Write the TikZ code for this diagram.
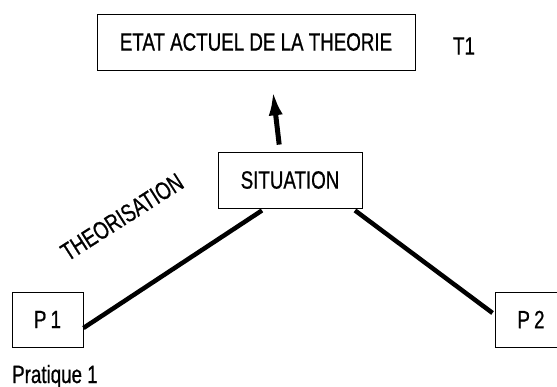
\documentclass[tikz,border=0pt]{standalone}
\usepackage{fontspec}
\setmainfont{Liberation Sans}[FakeStretch=0.75,FakeBold=0.7]
\usetikzlibrary{arrows.meta}
\begin{document}
\begin{tikzpicture}[x=1pt,y=-1pt,
  every node/.style={font=\fontsize{25}{27}\selectfont},
  box/.style={draw, line width=0.9pt, inner sep=0pt, minimum height=56pt},
  link/.style={line width=4.5pt},
  arr/.style={line width=5pt, -{Latex[length=25pt,width=14pt]}}]
\useasboundingbox (0,0) rectangle (557,387);
\node[box, minimum width=318pt] (top) at (256,42) {ETAT ACTUEL DE LA THEORIE};
\node (t1) at (464,46) {T1};
\node[box, minimum width=144pt] (sit) at (290,180) {SITUATION};
\node[box, minimum width=71pt, minimum height=55pt] (p1) at (47.5,319.5) {P\,1};
\node[box, minimum width=72pt, minimum height=55pt] (p2) at (531,319.5) {P\,2};
\node[anchor=base west, inner sep=0pt] (prat) at (12,383) {Pratique 1};
\node[rotate=32.5] (theo) at (122,217) {THEORISATION};
\draw[arr, shorten <=7pt, shorten >=20pt] ([xshift=-10pt]sit.north) -- ([xshift=14.5pt]top.south);
\draw[link] ([xshift=-28pt,yshift=-2pt]sit.south) -- ([yshift=-8.5pt]p1.east);
\draw[link] ([xshift=65pt,yshift=-2pt]sit.south) -- ([xshift=-2pt,yshift=6.5pt]p2.west);
\end{tikzpicture}
\end{document}
